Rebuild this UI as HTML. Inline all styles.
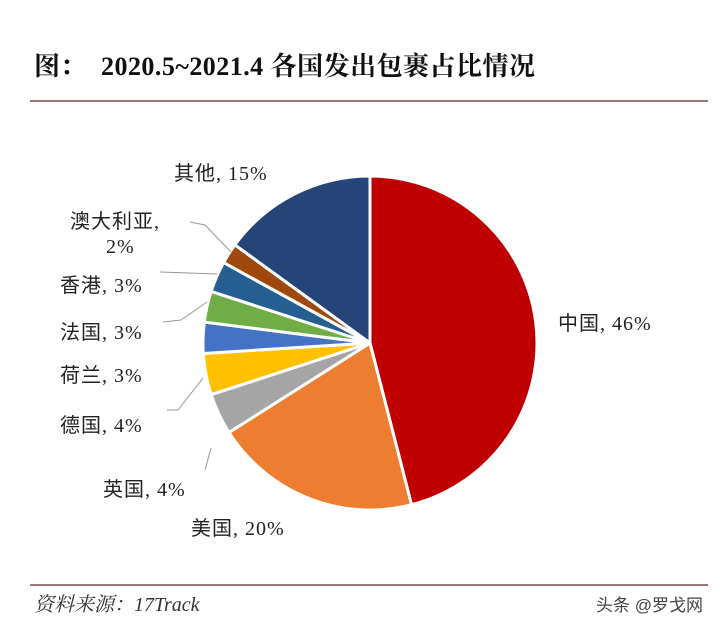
<!DOCTYPE html>
<html><head><meta charset="utf-8"><style>
body{margin:0;background:#fff;width:720px;height:629px;overflow:hidden}
</style></head><body>
<svg width="720" height="629" xmlns="http://www.w3.org/2000/svg" font-family="Liberation Serif, Noto Serif CJK SC, serif">
<rect width="720" height="629" fill="#fff"/>
<text x="34" y="75" font-size="26" font-weight="bold" fill="#111">图：</text>
<text x="101" y="75" font-size="26" font-weight="bold" fill="#111" textLength="434">2020.5~2021.4 各国发出包裹占比情况</text>
<line x1="30" y1="101" x2="708" y2="101" stroke="#7a4a48" stroke-width="1.5"/>
<g id="pie" stroke="#fff" stroke-width="3"></g>
<g stroke="#999" stroke-width="1" fill="none">
<polyline points="190,222 205,225 231,252"/>
<polyline points="160,272 217,274"/>
<polyline points="163,322 181,320 207,302"/>
<polyline points="167,410 178,410 203,378"/>
<polyline points="205,470 211,448"/>
</g>
<g font-size="20" fill="#222" font-family="Liberation Serif, Noto Sans CJK SC, serif" letter-spacing="1">
<text x="174" y="180">其他, 15%</text>
<text x="70" y="228">澳大利亚,</text>
<text x="106" y="253">2%</text>
<text x="60" y="292">香港, 3%</text>
<text x="60" y="339">法国, 3%</text>
<text x="60" y="382">荷兰, 3%</text>
<text x="60" y="432">德国, 4%</text>
<text x="103" y="496">英国, 4%</text>
<text x="191" y="535">美国, 20%</text>
<text x="558" y="330">中国, 46%</text>
</g>
<line x1="30" y1="585" x2="708" y2="585" stroke="#7a4a48" stroke-width="1.5"/>
<text x="34" y="611" font-size="20" font-style="italic" fill="#333">资料来源：17Track</text>
<text x="596" y="611" font-size="17" fill="#444" font-family="Liberation Sans, Noto Sans CJK SC, sans-serif">头条 @罗戈网</text>
</svg>
<script>
var d=[[46,"#C00000"],[20,"#ED7D31"],[4,"#A5A5A5"],[4,"#FFC000"],[3,"#4472C4"],[3,"#70AD47"],[3,"#255E91"],[2,"#9E480E"],[15,"#264478"]];
var cx=370,cy=343,r=167,a=0,g=document.getElementById("pie"),s="";
d.forEach(function(e){var b=a+e[0]*3.6;var r1=a*Math.PI/180,r2=b*Math.PI/180;
var x1=cx+r*Math.sin(r1),y1=cy-r*Math.cos(r1),x2=cx+r*Math.sin(r2),y2=cy-r*Math.cos(r2);
s+='<path d="M'+cx+','+cy+' L'+x1+','+y1+' A'+r+','+r+' 0 '+(e[0]>50?1:0)+' 1 '+x2+','+y2+' Z" fill="'+e[1]+'"/>';a=b;});
g.innerHTML=s;
</script>
</body></html>
